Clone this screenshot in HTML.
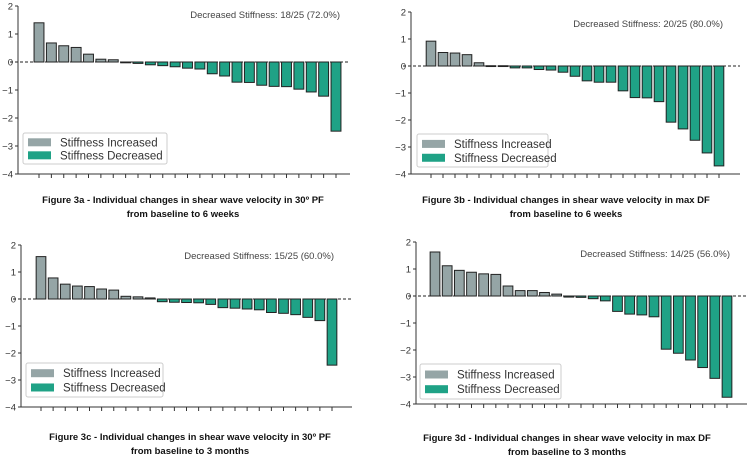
<!DOCTYPE html>
<html><head><meta charset="utf-8"><style>
body{margin:0;background:#fff;}
svg{display:block;font-family:"Liberation Sans",sans-serif;}
</style></head><body>
<svg id="chart" width="749" height="456" viewBox="0 0 749 456"></svg>
<script>
const panelIds = ['3a','3b','3c','3d'];
const valuesA = [1.4,0.68,0.58,0.52,0.28,0.1,0.08,-0.02,-0.05,-0.1,-0.13,-0.17,-0.22,-0.25,-0.42,-0.5,-0.72,-0.73,-0.83,-0.87,-0.88,-0.97,-1.07,-1.22,-2.47];
const valuesB = [0.92,0.5,0.48,0.42,0.12,0.01,0.01,-0.07,-0.07,-0.13,-0.15,-0.23,-0.38,-0.55,-0.6,-0.6,-0.92,-1.17,-1.18,-1.32,-2.08,-2.33,-2.75,-3.22,-3.7];
const valuesC = [1.57,0.78,0.55,0.48,0.46,0.37,0.33,0.1,0.08,0.04,-0.1,-0.12,-0.13,-0.14,-0.2,-0.32,-0.34,-0.37,-0.4,-0.5,-0.53,-0.58,-0.68,-0.8,-2.45];
const valuesD = [1.63,1.12,0.95,0.88,0.82,0.8,0.37,0.2,0.2,0.13,0.07,-0.04,-0.05,-0.1,-0.18,-0.57,-0.67,-0.7,-0.77,-1.97,-2.12,-2.37,-2.65,-3.05,-3.75];
const yTicks = [2,1,0,-1,-2,-3,-4];
const annotations = ['Decreased Stiffness: 18/25 (72.0%)','Decreased Stiffness: 20/25 (80.0%)','Decreased Stiffness: 15/25 (60.0%)','Decreased Stiffness: 14/25 (56.0%)'];
const captions1 = ['Figure 3a - Individual changes in shear wave velocity in 30º PF','Figure 3b - Individual changes in shear wave velocity in max DF','Figure 3c - Individual changes in shear wave velocity in 30º PF','Figure 3d - Individual changes in shear wave velocity in max DF'];
const captions2 = ['from baseline to 6 weeks','from baseline to 6 weeks','from baseline to 3 months','from baseline to 3 months'];
const allValues = [valuesA,valuesB,valuesC,valuesD];

const layouts = [
 {ax:18, axEnd:350, yTop:6, yBot:174, t0:39, t1:336, ann:[340,18], leg:[23,133,144,31], cap:[183,200]},
 {ax:411, axEnd:740, yTop:12, yBot:174, t0:431, t1:719, ann:[723,27], leg:[417,134,131,33], cap:[566,200]},
 {ax:21, axEnd:352, yTop:245, yBot:407, t0:41, t1:332, ann:[334,259], leg:[26,363,137,34], cap:[190,437]},
 {ax:416, axEnd:747, yTop:242, yBot:404, t0:435, t1:727, ann:[730,257], leg:[420,364,141,35], cap:[567,438]}
];
const NS='http://www.w3.org/2000/svg';
const svg=document.getElementById('chart');
function mk(tag,attrs,parent){const e=document.createElementNS(NS,tag);for(const k in attrs)e.setAttribute(k,attrs[k]);(parent||svg).appendChild(e);return e;}
const GRAY='#95a5a6', TEAL='#1fa286';
allValues.forEach((vals,p)=>{
  const L=layouts[p];
  const g=mk('g',{});
  
  
  const y=v=>L.yTop+(2-v)*(L.yBot-L.yTop)/6;
  const x=i=>L.t0+i*(L.t1-L.t0)/(vals.length-1);
  const bw=(L.t1-L.t0)/(vals.length-1)*0.8;
  yTicks.forEach(t=>{
    mk('line',{x1:L.ax-3,x2:L.ax,y1:y(t),y2:y(t),stroke:'#333','stroke-width':1},g);
    const tx=mk('text',{x:L.ax-5,y:y(t)+3.5,'text-anchor':'end','font-size':9.5,fill:'#333'},g);
    tx.textContent=(t<0?'−'+Math.abs(t):t);
    
    
  });
  vals.forEach((v,i)=>{
    const r=mk('rect',{x:x(i)-bw/2,y:Math.min(y(v),y(0)),width:bw,height:Math.max(Math.abs(y(v)-y(0)),0.8),fill:v>0?GRAY:TEAL,stroke:'#222','stroke-width':1},g);
    
    
    mk('line',{x1:x(i),x2:x(i),y1:L.yBot,y2:L.yBot+4,stroke:'#333','stroke-width':1},g);
  });
  const z=mk('line',{x1:L.ax-8,x2:L.axEnd,y1:y(0),y2:y(0),stroke:'#222','stroke-width':1,'stroke-dasharray':'3,2'},g);
  
  
  mk('line',{x1:L.ax,x2:L.ax,y1:L.yTop,y2:L.yBot,stroke:'#333','stroke-width':1},g);
  mk('line',{x1:L.ax,x2:L.axEnd,y1:L.yBot,y2:L.yBot,stroke:'#333','stroke-width':1},g);
  const an=mk('text',{x:L.ann[0],y:L.ann[1],'text-anchor':'end','font-size':9.5,fill:'#444'},g);
  an.textContent=annotations[p];
  
  
  const [lx,ly,lw,lh]=L.leg;
  const lg=mk('g',{},g);
  
  
  mk('rect',{x:lx,y:ly,width:lw,height:lh,fill:'#fff',stroke:'#ccc','stroke-width':1,rx:2},lg);
  [[GRAY,'Stiffness Increased'],[TEAL,'Stiffness Decreased']].forEach((e,k)=>{
    const cy=ly+lh*(k===0?0.3:0.72);
    mk('rect',{x:lx+5,y:cy-4,width:23,height:8,fill:e[0]},lg);
    const t=mk('text',{x:lx+37,y:cy+4,'font-size':11.5,fill:'#333'},lg);
    t.textContent=e[1];
    
    
  });
  [captions1[p],captions2[p]].forEach((c,k)=>{
    const t=mk('text',{x:L.cap[0],y:L.cap[1]+k*14+3,'text-anchor':'middle','font-size':9.5,'font-weight':'bold',fill:'#111'},g);
    t.textContent=c;
    
    
  });
});
</script>
</body></html>
